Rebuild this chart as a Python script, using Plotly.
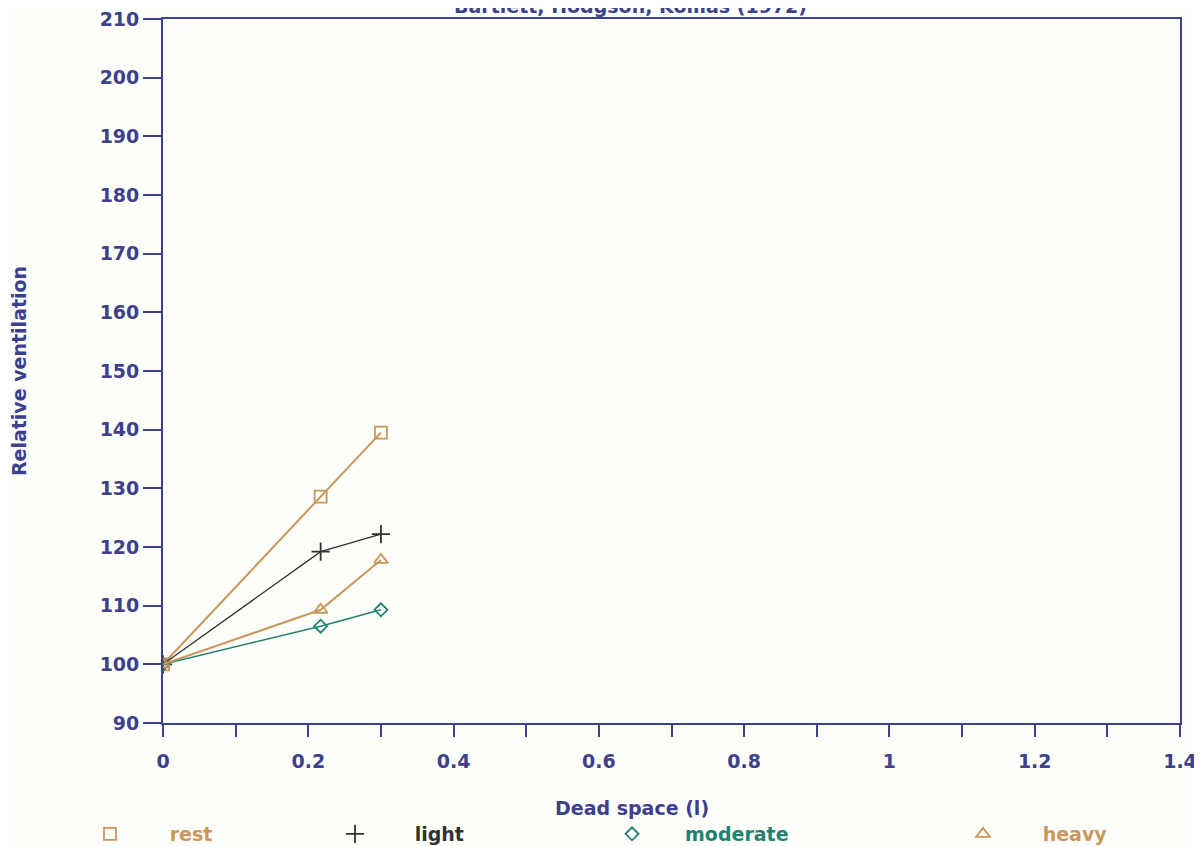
import plotly.graph_objects as go

dead_space = [0, 0.217, 0.3]
rest = [100, 128.6, 139.5]
light = [100, 119.2, 122.2]
moderate = [100, 106.5, 109.3]
heavy = [100, 109.3, 117.8]

series = [
    ("rest", rest, "#c9975c", 2.0, "square-open", 12, "legend"),
    ("light", light, "#2e3432", 1.3, "cross-thin-open", 13, "legend2"),
    ("moderate", moderate, "#1f8271", 1.5, "diamond-open", 10, "legend3"),
    ("heavy", heavy, "#c9975c", 2.0, "triangle-up-open", 12, "legend4"),
]

AX = "#3d418c"
FONT = "DejaVu Sans"
FS = 19

# the page has an 8px body margin; figure is sized to fit the window
W, H = 1194, 838
OFF = 8
TOP = 19  # page y of plot top
# legend symbol centre (page px), padding count, colour
legend_pos = [(110, 6, "#c9975c"), (355, 6, "#2e3432"), (632, 5, "#1f8271"), (983, 6, "#c9975c")]

fig = go.Figure()
for (name, vals, col, lw, sym, ms, lg), (_, npad, _) in zip(series, legend_pos):
    fig.add_trace(go.Scatter(
        x=dead_space, y=vals, mode="lines", showlegend=False,
        line=dict(color=col, width=lw), hoverinfo="skip",
    ))
    fig.add_trace(go.Scatter(
        x=dead_space, y=vals, name="\u00a0" * npad + name, mode="markers",
        marker=dict(symbol=sym, size=ms, color=col, line=dict(color=col, width=1.8)),
        legend=lg,
    ))

legends = {}
for i, (px, npad, col) in enumerate(legend_pos):
    key = "legend" if i == 0 else f"legend{i+1}"
    legends[key] = dict(
        xref="container", yref="container", x=(px - OFF - 20) / W, y=1 - (834 - OFF) / H,
        xanchor="left", yanchor="middle", orientation="h",
        itemwidth=30, bgcolor="rgba(0,0,0,0)",
        font=dict(family=FONT, size=FS, color=col, weight="bold"),
    )

plot_h = 723 - TOP
fig.update_layout(
    width=W, height=H,
    margin=dict(l=163 - OFF, r=22, t=TOP - OFF, b=H - (723 - OFF), autoexpand=False),
    paper_bgcolor="#fdfdfa", plot_bgcolor="#fdfdfa",
    font=dict(family=FONT, color=AX, size=FS),
    showlegend=True,
    **legends,
)
fig.update_xaxes(
    range=[0, 1.4], dtick=0.2, tick0=0, ticks="outside", ticklen=12, tickwidth=1.8,
    tickcolor=AX, showline=True, linecolor=AX, linewidth=1.8, mirror=True,
    showgrid=False, zeroline=False, tickformat="~g", ticklabelstandoff=8,
    ticklabeloverflow="allow", automargin=False,
    tickfont=dict(family=FONT, size=FS, color=AX, weight="bold"),
    minor=dict(dtick=0.1, ticks="outside", ticklen=12, tickwidth=1.8, tickcolor=AX),
)
fig.update_yaxes(
    range=[90, 210], dtick=10, ticks="outside", ticklen=18, tickwidth=1.8,
    tickcolor=AX, showline=True, linecolor=AX, linewidth=1.8, mirror=True,
    showgrid=False, zeroline=False, ticklabeloverflow="allow", automargin=False,
    tickfont=dict(family=FONT, size=FS, color=AX, weight="bold"),
    title=dict(text="Relative ventilation", font=dict(family=FONT, size=FS, color=AX, weight="bold"), standoff=70),
)
fig.add_annotation(
    text="Dead space (l)", xref="paper", yref="paper",
    x=(632 - 163) / 1017, y=-(808 - 723) / plot_h, xanchor="center", yanchor="middle",
    showarrow=False, font=dict(family=FONT, size=FS, color=AX, weight="bold"),
)
fig.add_annotation(
    text="Bartlett, Hodgson, Kollias (1972)", xref="paper", yref="paper",
    x=(630 - 163) / 1017, y=1 + (TOP - 6) / plot_h, xanchor="center", yanchor="middle",
    showarrow=False, font=dict(family=FONT, size=FS, color=AX, weight="bold"),
)
fig.write_html("out.html")
